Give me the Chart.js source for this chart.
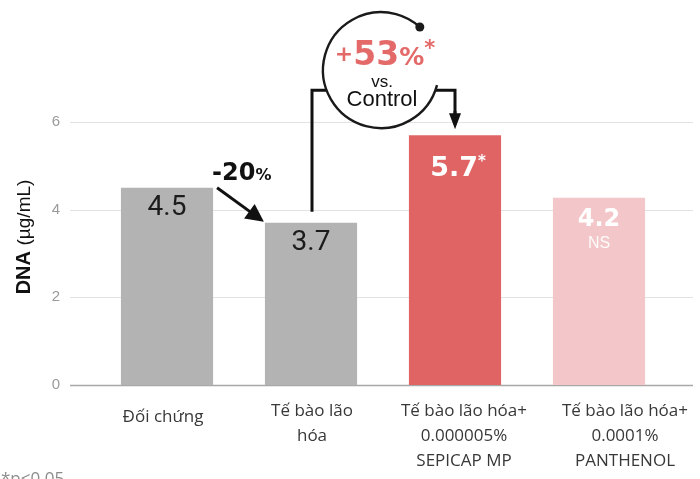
<!DOCTYPE html>
<html>
<head>
<meta charset="utf-8">
<script src="https://cdn.jsdelivr.net/npm/chart.js@4"></script>
<style>
  html, body { margin: 0; padding: 0; background: #fff; }
  #wrap { width: 700px; height: 479px; position: relative; }
</style>
</head>
<body>
<div id="wrap"><canvas id="chart"></canvas></div>
<script>
/* ------------------------------------------------ */

const categories = [
  ['Đối chứng'],
  ['Tế bào lão', 'hóa'],
  ['Tế bào lão hóa+', '0.000005%', 'SEPICAP MP'],
  ['Tế bào lão hóa+', '0.0001%', 'PANTHENOL'],
];
const dnaValues = [4.5, 3.7, 5.7, 4.27];
const valueLabels = ['4.5', '3.7', '5.7', '4.2'];
const signifLabels = ['', '', '*', 'NS'];
const yTicks = [0, 2, 4, 6];
const changeVsControl = '-20%';
const changeTreated = '+53%';

const barColors = ['#b3b3b3', '#b3b3b3', '#e06464', '#f3c7c9'];
const labelShift = [-4, 1, 9, 26];

/* ------------------------------------------------ */

function drawArrow(ctx, x1, y1, x2, y2, head, half) {
  let a = Math.atan2(y2 - y1, x2 - x1);
  let bx = x2 - head * Math.cos(a);
  let by = y2 - head * Math.sin(a);
  ctx.beginPath();
  ctx.moveTo(x1, y1);
  ctx.lineTo(bx + 2 * Math.cos(a), by + 2 * Math.sin(a));
  ctx.stroke();
  ctx.beginPath();
  ctx.moveTo(x2, y2);
  ctx.lineTo(bx + half * Math.sin(a), by - half * Math.cos(a));
  ctx.lineTo(bx - half * Math.sin(a), by + half * Math.cos(a));
  ctx.closePath();
  ctx.fill();
}

// draws pieces of text in a row, each with its own font, centred on cx
function drawRun(ctx, parts, cx, baseline) {
  let total = 0;
  parts.forEach((p) => { ctx.font = p.font; p.w = ctx.measureText(p.text).width; total += p.w; });
  let x = cx - total / 2;
  ctx.textAlign = 'left';
  ctx.textBaseline = 'alphabetic';
  parts.forEach((p) => {
    ctx.font = p.font;
    ctx.fillStyle = p.color;
    ctx.fillText(p.text, x, baseline + (p.dy || 0));
    x += p.w;
  });
}

/* ------------------------------------------------ */

const decorations = {
  id: 'decorations',

  beforeDatasetsDraw(chart) {
    let ctx = chart.ctx;
    let y = chart.scales.y;
    ctx.save();
    yTicks.forEach((t) => {
      let py = Math.round(y.getPixelForValue(t)) + 0.5;
      ctx.strokeStyle = (t == 0) ? '#a8a8a8' : '#e3e3e3';
      ctx.lineWidth = (t == 0) ? 1.5 : 1.2;
      ctx.beginPath();
      ctx.moveTo(70, py);
      ctx.lineTo(693, py);
      ctx.stroke();
    });
    ctx.restore();
  },

  afterDatasetsDraw(chart) {
    let ctx = chart.ctx;
    let bars = chart.getDatasetMeta(0).data;
    let x = chart.scales.x;
    ctx.save();

    // values inside the bars
    ctx.textAlign = 'center';
    ctx.textBaseline = 'middle';
    [0, 1].forEach((i) => {
      ctx.font = '28px Roboto';
      ctx.fillStyle = '#1c1c1c';
      ctx.fillText(valueLabels[i], bars[i].x, bars[i].y + 20);
    });
    drawRun(ctx, [
      { text: valueLabels[2], font: 'bold 27px "DejaVu Sans"', color: '#ffffff' },
      { text: signifLabels[2], font: 'bold 15px "DejaVu Sans"', color: '#ffffff', dy: -10 },
    ], bars[2].x + 3, bars[2].y + 41);
    ctx.textAlign = 'center';
    ctx.textBaseline = 'middle';
    ctx.fillStyle = '#ffffff';
    ctx.font = 'bold 24px "DejaVu Sans"';
    ctx.fillText(valueLabels[3], bars[3].x, bars[3].y + 22);
    ctx.font = '16px "Liberation Sans"';
    ctx.fillStyle = 'rgba(255,255,255,0.92)';
    ctx.fillText(signifLabels[3], bars[3].x, bars[3].y + 46);

    // -20% arrow between control and aged cells
    let r0 = bars[0].x + bars[0].width / 2;
    let l1 = bars[1].x - bars[1].width / 2;
    ctx.strokeStyle = '#111';
    ctx.fillStyle = '#111';
    ctx.lineWidth = 3;
    drawArrow(ctx, r0 + 4, bars[0].y, l1 - 1, bars[1].y - 1, 18, 9);
    ctx.textAlign = 'left';
    ctx.textBaseline = 'alphabetic';
    ctx.font = 'bold 24px "DejaVu Sans"';
    ctx.fillText(changeVsControl.slice(0, -1), r0 - 1, bars[0].y - 8);
    let w20 = ctx.measureText(changeVsControl.slice(0, -1)).width;
    ctx.font = 'bold 16px "DejaVu Sans"';
    ctx.fillText('%', r0 - 1 + w20, bars[0].y - 8);

    // bracket from aged cells to SEPICAP bar
    let cx = (bars[1].x + bars[2].x) / 2 - 2;
    let cy = bars[2].y - 65;
    let rad = 58;
    let by = cy + 20;
    ctx.lineWidth = 3;
    ctx.beginPath();
    ctx.moveTo(bars[1].x + 1, bars[1].y - 11);
    ctx.lineTo(bars[1].x + 1, by);
    ctx.lineTo(cx - 50, by);
    ctx.stroke();
    ctx.beginPath();
    ctx.moveTo(cx + 50, by);
    ctx.lineTo(bars[2].x, by);
    ctx.lineTo(bars[2].x, bars[2].y - 20);
    ctx.stroke();
    drawArrow(ctx, bars[2].x, bars[2].y - 24, bars[2].x, bars[2].y - 6, 16, 6);

    // open circle with the +53% note
    ctx.beginPath();
    ctx.arc(cx, cy, rad, 0, Math.PI * 2);
    ctx.fillStyle = '#ffffff';
    ctx.fill();
    let a0 = 15 * Math.PI / 180;
    let a1 = 312 * Math.PI / 180;
    ctx.lineWidth = 2.4;
    ctx.strokeStyle = '#1a1a1a';
    ctx.beginPath();
    ctx.arc(cx, cy, rad, a0, a1);
    ctx.stroke();
    ctx.fillStyle = '#1a1a1a';
    ctx.beginPath();
    ctx.arc(cx + rad * Math.cos(a1), cy + rad * Math.sin(a1), 4.5, 0, Math.PI * 2);
    ctx.fill();

    let red = '#e46a6a';
    drawRun(ctx, [
      { text: changeTreated.slice(0, 1), font: 'bold 22px "DejaVu Sans"', color: red, dy: -4 },
      { text: changeTreated.slice(1, -1), font: 'bold 33px "DejaVu Sans"', color: red },
      { text: '%', font: 'bold 25px "DejaVu Sans"', color: red },
      { text: '*', font: 'bold 21px "DejaVu Sans"', color: red, dy: -10 },
    ], cx + 4, cy - 5);
    ctx.textAlign = 'center';
    ctx.textBaseline = 'middle';
    ctx.fillStyle = '#111';
    ctx.font = '17px "Liberation Sans"';
    ctx.fillText('vs.', cx + 1, cy + 12);
    ctx.font = '22px "Liberation Sans"';
    ctx.fillText('Control', cx + 1, cy + 30);

    // category labels
    ctx.fillStyle = '#383838';
    ctx.font = '17px "Open Sans"';
    categories.forEach((lines, i) => {
      let px = x.getPixelForValue(i) + labelShift[i];
      let top = (lines.length == 1) ? 417 : 411;
      lines.forEach((line, j) => {
        ctx.fillText(line, px, top + j * 25);
      });
    });

    // y axis title
    ctx.save();
    ctx.translate(23, 237);
    ctx.rotate(-Math.PI / 2);
    drawRun(ctx, [
      { text: 'DNA ', font: 'bold 20px "Liberation Sans"', color: '#111' },
      { text: '(µg/mL)', font: '19px "Liberation Sans"', color: '#111' },
    ], 0, 7);
    ctx.restore();

    // footnote, cut by the bottom edge
    ctx.textAlign = 'left';
    ctx.textBaseline = 'alphabetic';
    ctx.fillStyle = '#8c8c8c';
    ctx.font = '17px "Open Sans"';
    ctx.fillText('*p<0.05', 1, 484);

    ctx.restore();
  },
};

/* ------------------------------------------------ */

function generateChart() {
  let ctx = document.getElementById('chart').getContext('2d');
  return new Chart(ctx, {
    type: 'bar',
    data: {
      labels: categories,
      datasets: [{
        data: dnaValues,
        backgroundColor: barColors,
        borderWidth: 0,
        barPercentage: 0.64,
        categoryPercentage: 1,
      }],
    },
    options: {
      responsive: true,
      maintainAspectRatio: false,
      animation: false,
      devicePixelRatio: 1,
      layout: { padding: { top: 122, bottom: 94, left: 0, right: 29 } },
      plugins: {
        legend: { display: false },
        tooltip: { enabled: false },
      },
      scales: {
        x: { display: false },
        y: {
          min: 0,
          max: 6,
          afterBuildTicks: (scale) => { scale.ticks = yTicks.map((v) => ({ value: v })); },
          afterFit: (scale) => { scale.width = 95; },
          grid: { display: false, drawTicks: false },
          border: { display: false },
          ticks: {
            padding: 35,
            color: '#9a9a9a',
            font: { family: 'Liberation Sans', size: 15 },
          },
        },
      },
    },
    plugins: [decorations],
  });
}

let chart = generateChart();
</script>
</body>
</html>
